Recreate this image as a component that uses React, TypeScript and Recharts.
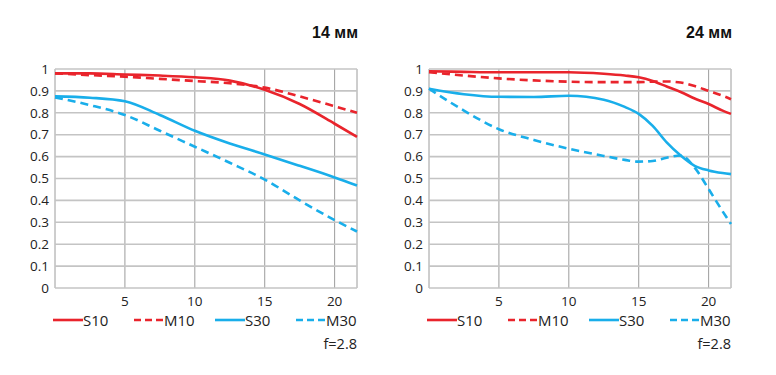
import { CartesianGrid, Line, LineChart, XAxis, YAxis } from "recharts";

// field position (mm from centre) and MTF contrast
const x14 = [0, 2.5, 5, 7.5, 10, 12.5, 15, 17.5, 20, 21.6];
const s10_14 = [0.98, 0.98, 0.975, 0.97, 0.962, 0.947, 0.905, 0.84, 0.75, 0.69];
const m10_14 = [0.98, 0.972, 0.965, 0.955, 0.945, 0.935, 0.915, 0.875, 0.83, 0.8];
const s30_14 = [0.875, 0.869, 0.853, 0.79, 0.718, 0.66, 0.61, 0.558, 0.505, 0.468];
const m30_14 = [0.87, 0.835, 0.79, 0.718, 0.645, 0.572, 0.495, 0.4, 0.31, 0.258];

const x24 = [0, 2.5, 5, 7.5, 10, 12.5, 14, 15, 16, 17, 18, 19, 20, 21, 21.6];
const s10_24 = [0.99, 0.987, 0.985, 0.985, 0.985, 0.978, 0.97, 0.962, 0.945, 0.92, 0.895, 0.865, 0.84, 0.81, 0.795];
const m10_24 = [0.985, 0.97, 0.957, 0.948, 0.942, 0.94, 0.94, 0.94, 0.942, 0.943, 0.938, 0.922, 0.9, 0.878, 0.862];
const s30_24 = [0.91, 0.885, 0.873, 0.872, 0.878, 0.86, 0.827, 0.795, 0.74, 0.665, 0.605, 0.558, 0.537, 0.525, 0.52];
const m30_24 = [0.91, 0.81, 0.725, 0.676, 0.636, 0.603, 0.585, 0.577, 0.58, 0.595, 0.605, 0.55, 0.452, 0.35, 0.292];

const xTicks = [0, 5, 10, 15, 20, 21.6];
const yTicks = [0, 0.1, 0.2, 0.3, 0.4, 0.5, 0.6, 0.7, 0.8, 0.9, 1];

const RED = "#e9242c";
const BLUE = "#19aeea";
const FONT = "'Open Sans', sans-serif";

const series = [
  { key: "S10", color: RED, dash: undefined },
  { key: "M10", color: RED, dash: "8 5" },
  { key: "S30", color: BLUE, dash: undefined },
  { key: "M30", color: BLUE, dash: "8 5" },
];

function build(xs: number[], cols: Record<string, number[]>) {
  return xs.map((x, i) => {
    const row: Record<string, number> = { x };
    Object.keys(cols).forEach((k) => (row[k] = cols[k][i]));
    return row;
  });
}

const data14 = build(x14, { S10: s10_14, M10: m10_14, S30: s30_14, M30: m30_14 });
const data24 = build(x24, { S10: s10_24, M10: m10_24, S30: s30_24, M30: m30_24 });

function MtfChart({ data, title, left }: { data: any[]; title: string; left: number }) {
  return (
    <div style={{ position: "absolute", left, top: 0, width: 388, height: 375 }}>
      <div
        style={{
          position: "absolute",
          right: 30,
          top: 24,
          fontFamily: "'Liberation Sans', Arial, sans-serif",
          fontWeight: "bold",
          fontSize: 16,
          color: "#111",
        }}
      >
        {title}
      </div>
      <LineChart
        width={388}
        height={375}
        data={data}
        margin={{ top: 69, right: 31, bottom: 57, left: 0 }}
      >
        <CartesianGrid horizontal={false} stroke="#9c9c9c" strokeWidth={1} />
        <CartesianGrid vertical={false} stroke="#c4c4c4" strokeWidth={1.6} />
        <XAxis
          dataKey="x"
          type="number"
          domain={[0, 21.6]}
          ticks={xTicks}
          tickFormatter={(v: number) => (v === 0 || v === 21.6 ? "" : String(v))}
          axisLine={false}
          tickLine={false}
          tick={{ fill: "#222", fontSize: 13.5, fontFamily: FONT }}
          interval={0}
        />
        <YAxis
          type="number"
          domain={[0, 1]}
          ticks={yTicks}
          width={55}
          axisLine={false}
          tickLine={false}
          tickSize={0}
          tickMargin={6}
          interval={0}
          tickFormatter={(v: number) => String(Math.round(v * 10) / 10)}
          tick={{ fill: "#222", fontSize: 13.5, fontFamily: FONT }}
        />
        {["M30", "S30", "M10", "S10"].map((k) => {
          const s = series.find((d) => d.key === k)!;
          return (
            <Line
              key={k}
              dataKey={k}
              type="monotone"
              stroke={s.color}
              strokeWidth={2.6}
              strokeDasharray={s.dash}
              dot={false}
              activeDot={false}
              isAnimationActive={false}
            />
          );
        })}
      </LineChart>
      <div style={{ position: "absolute", left: 53, top: 311, display: "flex" }}>
        {series.map((s) => (
          <div key={s.key} style={{ width: 81, display: "flex", alignItems: "center" }}>
            <svg width={30} height={18}>
              <line
                x1={0}
                y1={9}
                x2={30}
                y2={9}
                stroke={s.color}
                strokeWidth={2.6}
                strokeDasharray={s.dash ? "7 4" : undefined}
              />
            </svg>
            <span style={{ fontFamily: FONT, fontSize: 15, color: "#222", lineHeight: "18px" }}>
              {s.key}
            </span>
          </div>
        ))}
      </div>
      <div
        style={{
          position: "absolute",
          right: 31,
          top: 334,
          fontFamily: FONT,
          fontSize: 14.5,
          color: "#222",
        }}
      >
        f=2.8
      </div>
    </div>
  );
}

export default function App() {
  return (
    <div
      style={{
        position: "fixed",
        left: 0,
        top: 0,
        width: 776,
        height: 375,
        background: "#fff",
      }}
    >
      <MtfChart data={data14} title="14 мм" left={0} />
      <MtfChart data={data24} title="24 мм" left={374} />
    </div>
  );
}
